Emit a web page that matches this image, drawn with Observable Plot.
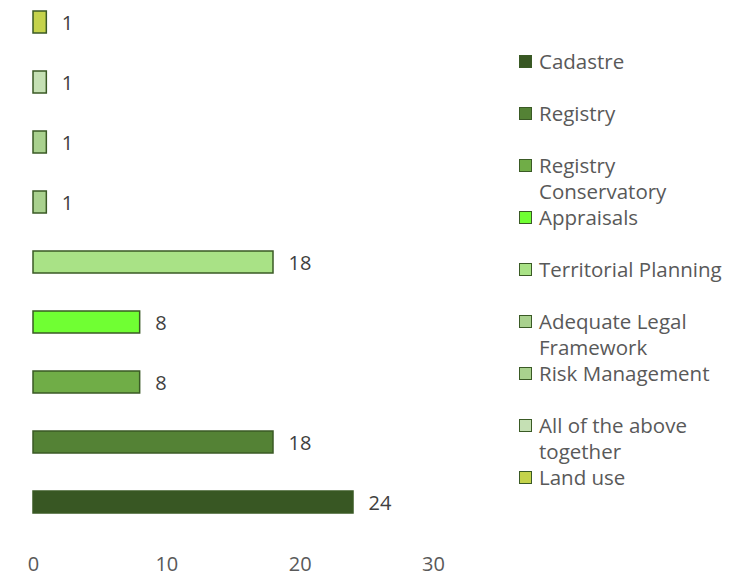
<!DOCTYPE html>
<html>
<head>
<meta charset="utf-8">
<script src="https://cdn.jsdelivr.net/npm/d3@7"></script>
<script src="https://cdn.jsdelivr.net/npm/@observablehq/plot@0.6"></script>
<style>
  html, body { margin: 0; padding: 0; background: #fff; }
  #wrap { position: relative; width: 753px; height: 576px; }
  #legend { position: absolute; left: 519px; top: 0; font-family: "Open Sans", sans-serif; font-size: 20.5px; color: #595959; }
  .item { position: absolute; left: 0; width: 225px; line-height: 26px; }
  .sw { position: absolute; left: 0; top: 7px; width: 13px; height: 13px; border: 1.5px solid #3a5a25; box-sizing: border-box; }
  .lbl { position: absolute; left: 20px; top: 0; width: 200px; white-space: normal; }
</style>
</head>
<body>
<div id="wrap">
  <div id="chart"></div>
  <div id="legend"></div>
</div>
<script>
const categories = ["Cadastre", "Registry", "Registry Conservatory", "Appraisals", "Territorial Planning", "Adequate Legal Framework", "Risk Management", "All of the above together", "Land use"];
const values = [24, 18, 8, 8, 18, 1, 1, 1, 1];
const colors = ["#385723", "#548235", "#70ad47", "#70ff33", "#a9e286", "#a9d18e", "#a9d18e", "#c5e0b4", "#c4d34b"];
const xTicks = [0, 10, 20, 30];

const data = categories.map((c, i) => ({category: c, value: values[i]}));

const chart = Plot.plot({
  width: 753,
  height: 576,
  marginLeft: 33,
  marginRight: 320,
  marginTop: 0,
  marginBottom: 30,
  style: {fontFamily: "'Open Sans', sans-serif", fontSize: "20px", color: "#595959", background: "#fff"},
  x: {domain: [0, 30], ticks: xTicks, label: null},
  y: {domain: categories.slice().reverse(), range: [-8, 532], paddingInner: 0.633, paddingOuter: 0.3165, axis: null},
  color: {domain: categories, range: colors},
  marks: [
    Plot.barX(data, {x: "value", y: "category", fill: "category", stroke: "#3a5a25", strokeWidth: 1.5}),
    Plot.text(data, {x: "value", y: "category", text: d => String(d.value), textAnchor: "start", dx: 15, dy: 1, fill: "#404040", fontSize: 20}),
    Plot.axisX({ticks: xTicks, tickSize: 0, tickPadding: 10, label: null, fill: "#595959", fontSize: 20})
  ]
});
document.getElementById("chart").appendChild(chart);

const legend = document.getElementById("legend");
categories.forEach((c, i) => {
  const item = document.createElement("div");
  item.className = "item";
  item.style.top = (48 + 52 * i) + "px";
  const sw = document.createElement("div");
  sw.className = "sw";
  sw.style.background = colors[i];
  const lbl = document.createElement("div");
  lbl.className = "lbl";
  lbl.textContent = c;
  item.appendChild(sw);
  item.appendChild(lbl);
  legend.appendChild(item);
});
</script>
</body>
</html>
